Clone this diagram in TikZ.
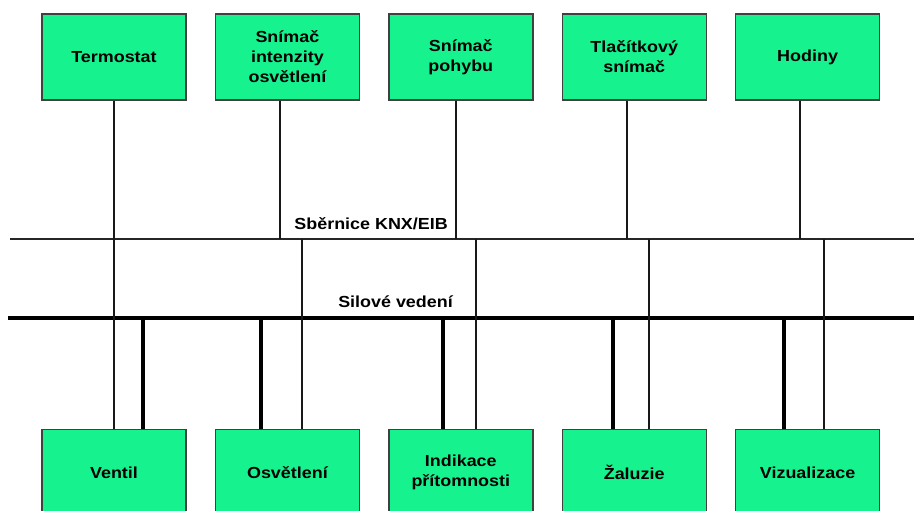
\documentclass[tikz,border=0pt]{standalone}
\usepackage{fontspec}
\setmainfont[FakeStretch=1.12]{Liberation Sans}
\usetikzlibrary{positioning}
\definecolor{devgreen}{RGB}{22,243,142}
\tikzset{
  dev-box/.style={draw=black!75, fill=devgreen, line width=1.4pt, minimum width=144pt, minimum height=86pt,
    align=center, inner sep=2pt, font=\bfseries\fontsize{16}{20}\selectfont},
  bus-line/.style={draw=black!85, line width=1.8pt},
  power-line/.style={draw=black, line width=4.2pt},
  data-wire/.style={draw=black!90, line width=1.2pt},
  power-wire/.style={draw=black, line width=3.6pt},
  bus-label/.style={font=\bfseries\fontsize{16}{20}\selectfont, inner sep=0pt}
}

\begin{document}
\begin{tikzpicture}[x=1pt, y=-1pt]
  \useasboundingbox (0,0) rectangle (914,511);

  % Sensors on top
  \node[dev-box] (termostat) at (114,57) {Termostat};
  \node[dev-box, right=28pt of termostat] (intenzita) {Snímač\\intenzity\\osvětlení};
  \node[dev-box, right=28pt of intenzita] (pohyb) {Snímač\\pohybu};
  \node[dev-box, right=28pt of pohyb] (tlacitko) {Tlačítkový\\snímač};
  \node[dev-box, right=28pt of tlacitko] (hodiny) {Hodiny};

  % Actuators at the bottom
  \node[dev-box, below=328pt of termostat] (ventil) {Ventil};
  \node[dev-box, below=328pt of intenzita] (osvetleni) {Osvětlení};
  \node[dev-box, below=328pt of pohyb] (indikace) {Indikace\\přítomnosti};
  \node[dev-box, below=328pt of tlacitko] (zaluzie) {Žaluzie};
  \node[dev-box, below=328pt of hodiny] (vizualizace) {Vizualizace};

  % The two lines
  \coordinate (knx-w) at (10,239);
  \coordinate (knx-e) at (914,239);
  \coordinate (pwr-w) at (8,318);
  \coordinate (pwr-e) at (914,318);
  \draw[bus-line] (knx-w) -- (knx-e);
  \draw[power-line] (pwr-w) -- (pwr-e);
  \node[bus-label, anchor=base east] (knx-label) at (448,229) {Sběrnice KNX/EIB};
  \node[bus-label, anchor=base east] (pwr-label) at (453,307) {Silové vedení};

  % Taps on the KNX line
  \coordinate (k-termostat) at (114,239);
  \coordinate (k-intenzita) at (280,239);
  \coordinate (k-pohyb) at (456,239);
  \coordinate (k-tlacitko) at (627,239);
  \coordinate (k-hodiny) at (800,239);
  \coordinate (k-ventil) at (114,239);
  \coordinate (k-osvetleni) at (302,239);
  \coordinate (k-indikace) at (476,239);
  \coordinate (k-zaluzie) at (649,239);
  \coordinate (k-vizualizace) at (824,239);

  % Taps on the power line
  \coordinate (p-ventil) at (143,318);
  \coordinate (p-osvetleni) at (261,318);
  \coordinate (p-indikace) at (443,318);
  \coordinate (p-zaluzie) at (613,318);
  \coordinate (p-vizualizace) at (784,318);

  % Sensors to the bus
  \draw[data-wire] (termostat.south -| k-termostat) -- (k-termostat);
  \draw[data-wire] (intenzita.south -| k-intenzita) -- (k-intenzita);
  \draw[data-wire] (pohyb.south -| k-pohyb) -- (k-pohyb);
  \draw[data-wire] (tlacitko.south -| k-tlacitko) -- (k-tlacitko);
  \draw[data-wire] (hodiny.south -| k-hodiny) -- (k-hodiny);

  % Bus to the actuators
  \draw[data-wire] (k-ventil) -- (ventil.north -| k-ventil);
  \draw[data-wire] (k-osvetleni) -- (osvetleni.north -| k-osvetleni);
  \draw[data-wire] (k-indikace) -- (indikace.north -| k-indikace);
  \draw[data-wire] (k-zaluzie) -- (zaluzie.north -| k-zaluzie);
  \draw[data-wire] (k-vizualizace) -- (vizualizace.north -| k-vizualizace);

  % Power to the actuators
  \draw[power-wire] (p-ventil) -- (ventil.north -| p-ventil);
  \draw[power-wire] (p-osvetleni) -- (osvetleni.north -| p-osvetleni);
  \draw[power-wire] (p-indikace) -- (indikace.north -| p-indikace);
  \draw[power-wire] (p-zaluzie) -- (zaluzie.north -| p-zaluzie);
  \draw[power-wire] (p-vizualizace) -- (vizualizace.north -| p-vizualizace);
\end{tikzpicture}
\end{document}
